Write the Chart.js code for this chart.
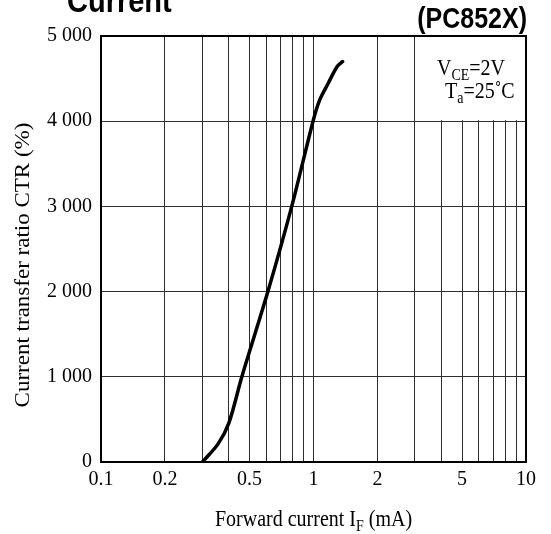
<!DOCTYPE html>
<html>
<head>
<meta charset="utf-8">
<script src="https://cdn.jsdelivr.net/npm/chart.js@4/dist/chart.umd.min.js"></script>
<style>
  html, body { margin: 0; padding: 0; background: #fff; }
  canvas { display: block; }
</style>
</head>
<body>
<canvas id="ctrChart" width="551" height="534"></canvas>
<script>
// CTR vs forward current (PC852X)
const forwardCurrent = [0.30, 0.355, 0.40, 0.46, 0.61, 0.79, 1.0, 1.07, 1.17, 1.29, 1.37];
const ctrPercent     = [0, 210, 460, 1000, 2000, 3000, 4020, 4250, 4440, 4640, 4700];

// axis grid values and the labels shown under them
const xGridValues = [0.1, 0.2, 0.3, 0.4, 0.5, 0.6, 0.7, 0.8, 0.9, 1, 2, 3, 4, 5, 6, 7, 8, 9, 10];
const xGridLabels = ['0.1', '0.2', '', '', '0.5', '', '', '', '', '1', '2', '', '', '5', '', '', '', '', '10'];
const yGridValues = [0, 1000, 2000, 3000, 4000, 5000];
const yGridLabels = ['0', '1 000', '2 000', '3 000', '4 000', '5 000'];

const SERIF = '"Liberation Serif", "Times New Roman", serif';
const SANS = '"Liberation Sans", Arial, sans-serif';
const STRETCH = 1.15; // the original scan is a little taller than wide

// draw a line of text with optional subscript parts
function drawRuns(ctx, runs, x, y, size, subSize, align) {
    ctx.save();
    ctx.translate(x, y);
    ctx.scale(1, STRETCH);
    ctx.fillStyle = '#000';
    ctx.textBaseline = 'alphabetic';
    ctx.textAlign = 'left';
    let total = 0;
    runs.forEach(r => {
        ctx.font = (r.sub ? subSize : size) + 'px ' + SERIF;
        total += ctx.measureText(r.t).width;
    });
    let cx = align === 'center' ? -total / 2 : (align === 'right' ? -total : 0);
    runs.forEach(r => {
        ctx.font = (r.sub ? subSize : size) + 'px ' + SERIF;
        ctx.fillText(r.t, cx, r.sub ? size * 0.22 : 0);
        cx += ctx.measureText(r.t).width;
    });
    ctx.restore();
}

// white box behind the conditions text
const conditionBox = {
    id: 'conditionBox',
    beforeDatasetsDraw(chart) {
        const ctx = chart.ctx;
        const area = chart.chartArea;
        const x0 = chart.scales.x.getPixelForValue(3) + 1;
        const y1 = chart.scales.y.getPixelForValue(4000) - 1;
        ctx.save();
        ctx.fillStyle = '#fff';
        ctx.fillRect(x0, area.top, area.right - x0, y1 - area.top);
        ctx.restore();
    }
};

// frame, titles and labels
const decorations = {
    id: 'decorations',
    afterDraw(chart) {
        const ctx = chart.ctx;
        const a = chart.chartArea;

        ctx.save();
        ctx.strokeStyle = '#000';
        ctx.lineWidth = 2;
        ctx.strokeRect(a.left, a.top, a.right - a.left, a.bottom - a.top);
        ctx.restore();

        // heading pieces
        ctx.save();
        ctx.fillStyle = '#000';
        ctx.textBaseline = 'alphabetic';
        ctx.translate(67, 12);
        ctx.scale(1, STRETCH);
        ctx.font = 'bold 29px ' + SANS;
        ctx.textAlign = 'left';
        ctx.fillText('Current', 0, 0);
        ctx.restore();

        ctx.save();
        ctx.fillStyle = '#000';
        ctx.textBaseline = 'alphabetic';
        ctx.translate(527, 28);
        ctx.scale(1, STRETCH);
        ctx.font = 'bold 25px ' + SANS;
        ctx.textAlign = 'right';
        ctx.fillText('(PC852X)', 0, 0);
        ctx.restore();

        // conditions
        drawRuns(ctx, [{t: 'V'}, {t: 'CE', sub: true}, {t: '=2V'}], 437, 75, 20, 14, 'left');
        drawRuns(ctx, [{t: 'T'}, {t: 'a', sub: true}, {t: '=25˚C'}], 445, 98, 20, 14, 'left');

        // x axis title
        drawRuns(ctx, [{t: 'Forward current I'}, {t: 'F', sub: true}, {t: ' (mA)'}],
            (a.left + a.right) / 2, 526, 20, 14, 'center');

        // y axis title
        ctx.save();
        ctx.translate(24, 265);
        ctx.rotate(-Math.PI / 2);
        ctx.scale(STRETCH, 1);
        ctx.fillStyle = '#000';
        ctx.font = '20px ' + SERIF;
        ctx.textAlign = 'center';
        ctx.textBaseline = 'middle';
        ctx.fillText('Current transfer ratio CTR (%)', 0, 0);
        ctx.restore();
    }
};

const canvas = document.getElementById('ctrChart');
new Chart(canvas.getContext('2d'), {
    type: 'line',
    data: {
        datasets: [{
            data: forwardCurrent.map((v, i) => ({x: v, y: ctrPercent[i]})),
            borderColor: '#000',
            borderWidth: 3.5,
            borderCapStyle: 'round',
            borderJoinStyle: 'round',
            pointRadius: 0,
            fill: false,
            tension: 0.3
        }]
    },
    options: {
        responsive: false,
        devicePixelRatio: 1,
        animation: false,
        layout: { padding: { top: 36, right: 25, left: 0, bottom: 0 } },
        plugins: {
            legend: { display: false },
            tooltip: { enabled: false }
        },
        scales: {
            x: {
                type: 'logarithmic',
                min: 0.1,
                max: 10,
                afterBuildTicks: s => { s.ticks = xGridValues.map(v => ({value: v})); },
                afterFit: s => { s.height = 72; },
                grid: { color: '#2e2e2e', lineWidth: 1, drawTicks: false },
                border: { display: false },
                ticks: {
                    autoSkip: false,
                    maxRotation: 0,
                    padding: 6,
                    color: '#000',
                    font: { family: SERIF, size: 20 },
                    callback: (value, index) => xGridLabels[index]
                }
            },
            y: {
                min: 0,
                max: 5000,
                afterBuildTicks: s => { s.ticks = yGridValues.map(v => ({value: v})); },
                afterFit: s => { s.width = 101; },
                grid: { color: '#2e2e2e', lineWidth: 1, drawTicks: false },
                border: { display: false },
                ticks: {
                    padding: 9,
                    color: '#000',
                    font: { family: SERIF, size: 20 },
                    callback: (value, index) => yGridLabels[index]
                }
            }
        }
    },
    plugins: [conditionBox, decorations]
});
</script>
</body>
</html>
